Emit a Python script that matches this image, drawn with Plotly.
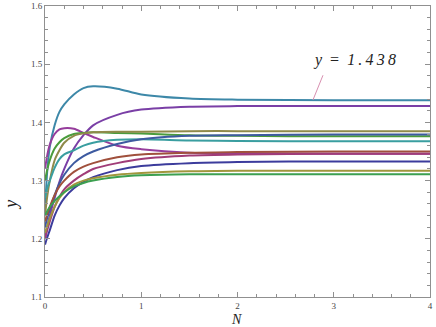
import plotly.graph_objects as go

N = [0, 0.025, 0.05, 0.1, 0.15, 0.2, 0.3, 0.4, 0.5, 0.75, 1.0, 1.5, 2.0, 3.0, 4.0]

series = {
    "teal_blue": [1.25, 1.32, 1.358, 1.395, 1.418, 1.431, 1.448, 1.459, 1.462, 1.458, 1.448, 1.441, 1.439, 1.438, 1.438],
    "purple":    [1.20, 1.222, 1.240, 1.270, 1.298, 1.320, 1.355, 1.378, 1.395, 1.413, 1.422, 1.427, 1.428, 1.428, 1.428],
    "magenta_pk":[1.32, 1.345, 1.362, 1.380, 1.388, 1.390, 1.389, 1.382, 1.375, 1.360, 1.354, 1.348, 1.347, 1.346, 1.346],
    "green":     [1.30, 1.32, 1.335, 1.355, 1.366, 1.373, 1.380, 1.382, 1.383, 1.382, 1.381, 1.378, 1.377, 1.376, 1.376],
    "olive":     [1.24, 1.275, 1.300, 1.335, 1.352, 1.365, 1.377, 1.381, 1.383, 1.384, 1.384, 1.385, 1.385, 1.385, 1.385],
    "teal":      [1.27, 1.288, 1.300, 1.322, 1.337, 1.345, 1.352, 1.360, 1.365, 1.370, 1.371, 1.369, 1.368, 1.3675, 1.3675],
    "blue":      [1.22, 1.237, 1.250, 1.275, 1.295, 1.310, 1.330, 1.342, 1.350, 1.363, 1.371, 1.377, 1.378, 1.379, 1.379],
    "brown":     [1.23, 1.243, 1.255, 1.275, 1.290, 1.300, 1.315, 1.324, 1.330, 1.340, 1.345, 1.348, 1.349, 1.350, 1.350],
    "magenta":   [1.20, 1.216, 1.230, 1.255, 1.272, 1.285, 1.300, 1.311, 1.320, 1.330, 1.337, 1.343, 1.345, 1.346, 1.346],
    "dark_blue": [1.19, 1.203, 1.215, 1.240, 1.257, 1.270, 1.287, 1.298, 1.306, 1.318, 1.325, 1.330, 1.332, 1.333, 1.333],
    "gold":      [1.21, 1.223, 1.235, 1.255, 1.270, 1.280, 1.293, 1.300, 1.304, 1.310, 1.313, 1.316, 1.317, 1.317, 1.317],
    "green2":    [1.24, 1.248, 1.255, 1.265, 1.273, 1.280, 1.290, 1.296, 1.300, 1.306, 1.309, 1.311, 1.311, 1.311, 1.311],
}

colors = {
    "teal_blue": "#3d88a8",
    "purple": "#7a3fa6",
    "magenta_pk": "#963d9c",
    "green": "#4a9c3c",
    "olive": "#8f8a4a",
    "teal": "#3a9ea0",
    "blue": "#3d5aa0",
    "brown": "#a0503c",
    "magenta": "#a03c78",
    "dark_blue": "#3c3c9c",
    "gold": "#a0963c",
    "green2": "#3ca050",
}

x_ticks = [0, 1, 2, 3, 4]
y_ticks = [1.1, 1.2, 1.3, 1.4, 1.5, 1.6]
y_tick_text = ["1.1", "1.2", "1.3", "1.4", "1.5", "1.6"]
label_text = "<i>y</i>\u2002=\u2002<i>1\u2009.\u20094\u20093\u20098</i>"

SERIF = "Liberation Serif, Times New Roman, DejaVu Serif, serif"

fig = go.Figure()
for name, vals in series.items():
    fig.add_trace(go.Scatter(x=N, y=vals, mode="lines", line=dict(color=colors[name], width=2, shape="spline", smoothing=0.8),
                             showlegend=False, hoverinfo="skip"))

axis_common = dict(showline=True, linecolor="#909090", linewidth=1, mirror="ticks", ticks="inside",
                   tickcolor="#909090", ticklen=5, showgrid=False, zeroline=False, automargin=False,
                   tickfont=dict(family=SERIF, size=9, color="#444444"))

fig.update_xaxes(range=[0, 4], tickvals=x_ticks, ticktext=[str(t) for t in x_ticks],
                 minor=dict(dtick=0.2, ticks="inside", ticklen=3, tickcolor="#909090"), **axis_common)
fig.update_yaxes(range=[1.1, 1.6], tickvals=y_ticks, ticktext=y_tick_text,
                 minor=dict(dtick=0.02, ticks="inside", ticklen=3, tickcolor="#909090"), **axis_common)

fig.add_shape(type="line", x0=2.784, y0=1.4385, x1=2.888, y1=1.481, line=dict(color="#d88fb0", width=1))
fig.add_annotation(x=3.22, y=1.507, text=label_text, showarrow=False, xanchor="center", yanchor="middle",
                   font=dict(family=SERIF, size=16, color="#222222"))
fig.add_annotation(xref="paper", yref="paper", x=0.497, y=-0.076, text="<i>N</i>", showarrow=False,
                   xanchor="center", yanchor="middle", font=dict(family=SERIF, size=14, color="#222222"))
fig.add_annotation(xref="paper", yref="paper", x=-0.089, y=0.316, text="<i>y</i>", showarrow=False,
                   xanchor="center", yanchor="middle", textangle=-90,
                   font=dict(family=SERIF, size=18, color="#222222"))

fig.update_layout(width=436, height=327, margin=dict(l=45, r=6, t=6, b=30, autoexpand=False),
                  plot_bgcolor="white", paper_bgcolor="white")

fig.write_html("out.html", config={"displayModeBar": False},
               post_script="document.body.style.margin='0';document.body.style.padding='0';")
